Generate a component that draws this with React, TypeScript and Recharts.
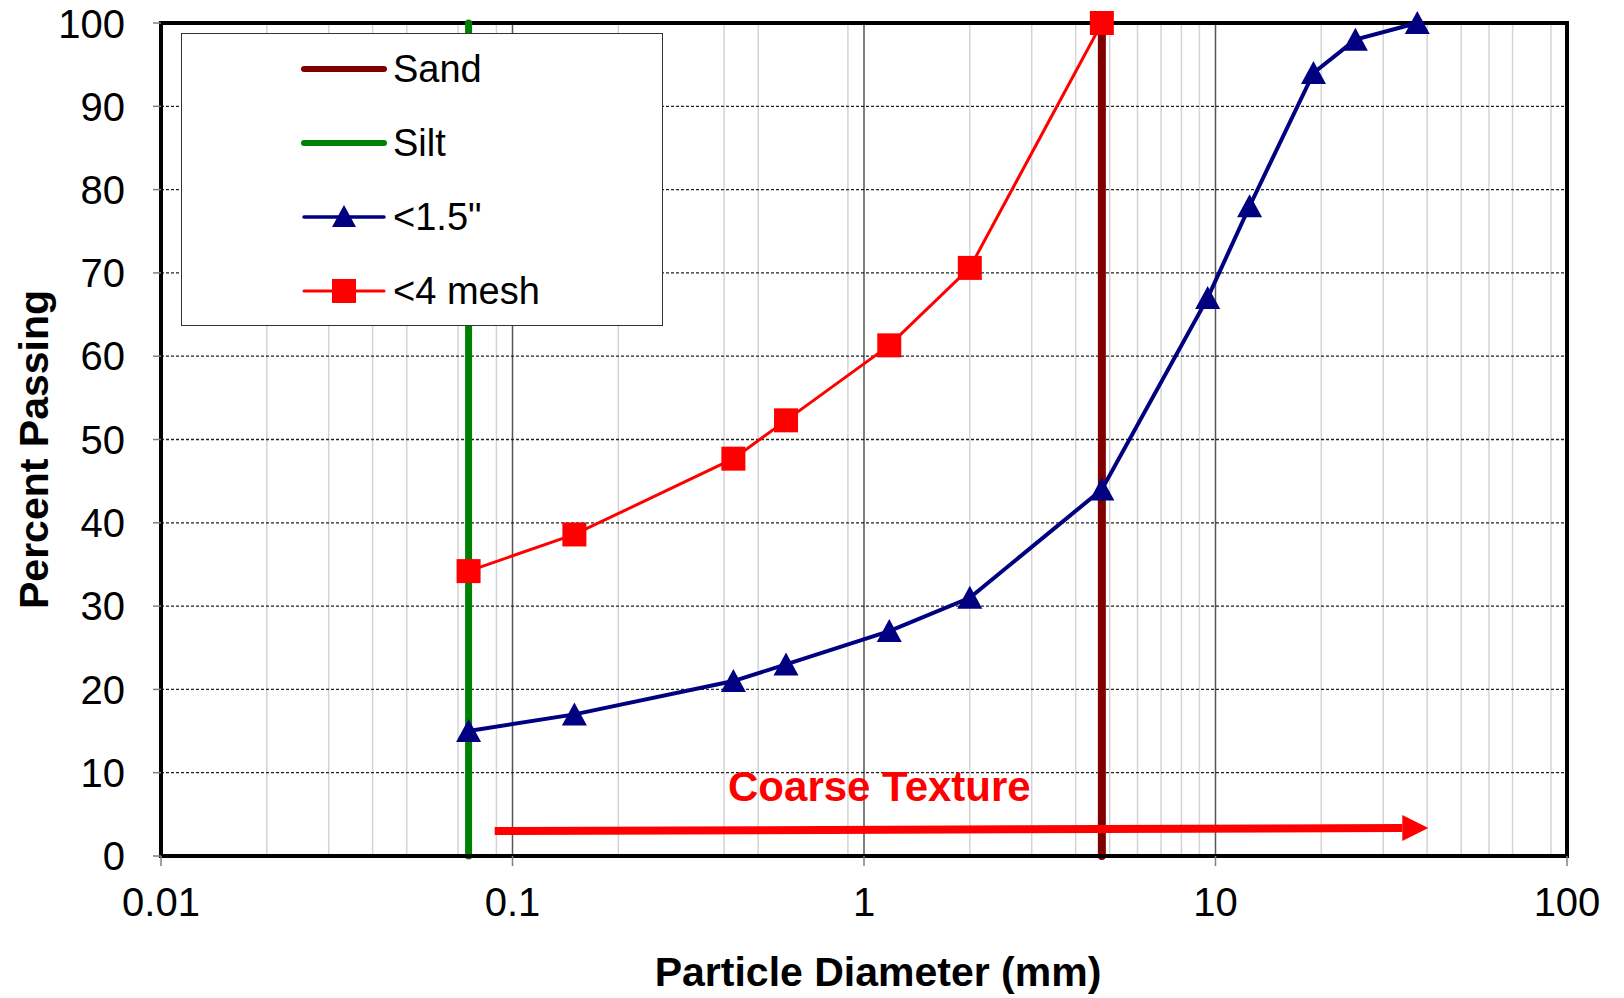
import React from 'react';
import {
  ComposedChart, Line, XAxis, YAxis, CartesianGrid,
  ReferenceArea, ReferenceDot, Legend,
} from 'recharts';

// sieve openings (mm) and percent passing
const sieveMm = [0.075, 0.15, 0.425, 0.6, 1.18, 2.0, 4.75, 9.5, 12.5, 19, 25, 37.5];
const passing15 = [15, 17, 21, 23, 27, 31, 44, 67, 78, 94, 98, 100];
const meshMm = [0.075, 0.15, 0.425, 0.6, 1.18, 2.0, 4.75];
const passingMesh = [34.2, 38.6, 47.7, 52.3, 61.3, 70.6, 100];

// texture boundaries
const sandX = [4.75, 4.75];
const sandY = [0, 100];
const siltX = [0.075, 0.075];
const siltY = [0, 100];

// "Coarse Texture" arrow
const arrowX = [0.089, 34];
const arrowY = [3.0, 3.35];
const arrowLabel = 'Coarse Texture';
const arrowLabelX = 1.106;
const arrowLabelY = 8.34;

const xTicks = [0.01, 0.1, 1, 10, 100];
const yTicks = [0, 10, 20, 30, 40, 50, 60, 70, 80, 90, 100];
const decades = [0.01, 0.1, 1, 10];
const multipliers = [2, 3, 4, 5, 6, 7, 8, 9];
const minorX = decades.flatMap((d) => multipliers.map((m) => d * m));

const legendOrder = ['Sand', 'Silt', '<1.5"', '<4 mesh'];

const toRows = (xs: number[], ys: number[]) => xs.map((x, i) => ({ x, y: ys[i] }));

const FONT = '"Liberation Sans", Arial, sans-serif';

const legendStyle: Record<string, { color: string; width: number; marker?: 'tri' | 'sq' }> = {
  Sand: { color: '#800000', width: 6 },
  Silt: { color: '#008000', width: 6 },
  '<1.5"': { color: '#000080', width: 3.5, marker: 'tri' },
  '<4 mesh': { color: '#FF0000', width: 3, marker: 'sq' },
};

function LegendBox(props: any) {
  const items = (props.payload || [])
    .filter((p: any) => legendStyle[p.value])
    .sort((a: any, b: any) => legendOrder.indexOf(a.value) - legendOrder.indexOf(b.value));
  return (
    <div style={{
      width: 482, height: 293, background: '#fff', border: '1.5px solid #333',
      boxSizing: 'border-box', position: 'relative', fontFamily: FONT,
    }}>
      {items.map((p: any, i: number) => {
        const s = legendStyle[p.value];
        return (
          <div key={p.value} style={{
            position: 'absolute', left: 119, top: 35 + i * 74 - 22, height: 44,
            display: 'flex', alignItems: 'center',
          }}>
            <svg width={86} height={44}>
              <line x1={3} y1={22} x2={83} y2={22} stroke={s.color} strokeWidth={s.width} strokeLinecap="round" />
              {s.marker === 'tri' && <path d="M43 10 L55 32 L31 32 Z" fill={s.color} />}
              {s.marker === 'sq' && <rect x={31} y={10} width={24} height={24} fill={s.color} />}
            </svg>
            <span style={{ fontSize: 38, color: '#000', marginLeft: 6, lineHeight: '44px' }}>{p.value}</span>
          </div>
        );
      })}
    </div>
  );
}

function YTitle({ viewBox }: any) {
  const cy = viewBox.y + viewBox.height / 2 + 10;
  return (
    <text x={34} y={cy} transform={`rotate(-90, 34, ${cy})`} textAnchor="middle" dominantBaseline="central"
      fontFamily={FONT} fontWeight="bold" fontSize={41} fill="#000">Percent Passing</text>
  );
}

function XTitle({ viewBox }: any) {
  return (
    <text x={viewBox.x + viewBox.width / 2 + 14} y={viewBox.y + 116} textAnchor="middle" dominantBaseline="central"
      fontFamily={FONT} fontWeight="bold" fontSize={41} fill="#000">Particle Diameter (mm)</text>
  );
}

const triangle = (p: any) => (
  <path key={p.index} d={`M${p.cx} ${p.cy - 12} L${p.cx + 12.5} ${p.cy + 11} L${p.cx - 12.5} ${p.cy + 11} Z`} fill="#000080" />
);
const square = (p: any) => (
  <rect key={p.index} x={p.cx - 12} y={p.cy - 12} width={24} height={24} fill="#FF0000" />
);
const arrowHead = (p: any) =>
  p.index === arrowX.length - 1 ? (
    <path key={p.index} d={`M${p.cx} ${p.cy - 13} L${p.cx + 26} ${p.cy} L${p.cx} ${p.cy + 13} Z`} fill="#FF0000" />
  ) : (
    <g key={p.index} />
  );

export default function App() {
  return (
    <div style={{ position: 'absolute', left: 0, top: 0 }}>
      <ComposedChart width={1624} height={998} margin={{ top: 23, right: 57, left: 0, bottom: 0 }}>
        <CartesianGrid horizontal={false} verticalValues={minorX} stroke="#D4D4D4" strokeWidth={1.5} />
        <CartesianGrid horizontal={false} verticalValues={xTicks} stroke="#555" strokeWidth={1.5} />
        <CartesianGrid vertical={false} horizontalValues={yTicks} stroke="#222" strokeWidth={1.3} strokeDasharray="3 2" />
        <XAxis
          dataKey="x" type="number" scale="log" domain={[0.01, 100]} ticks={xTicks}
          height={142} tickFormatter={(v) => String(v)}
          axisLine={{ stroke: '#000', strokeWidth: 4 }}
          tickLine={{ stroke: '#808080', strokeWidth: 1.5 }} tickSize={10} tickMargin={22}
          tick={{ fontSize: 40, fill: '#000', fontFamily: FONT }}
          label={<XTitle />}
        />
        <YAxis
          type="number" domain={[0, 100]} ticks={yTicks} width={161}
          axisLine={{ stroke: '#000', strokeWidth: 4 }}
          tickLine={{ stroke: '#808080', strokeWidth: 1.5 }} tickSize={8} tickMargin={28}
          tick={{ fontSize: 40, fill: '#000', fontFamily: FONT }}
          label={<YTitle />}
        />
        <ReferenceArea x1={0.01} x2={100} y1={0} y2={100} fill="none" stroke="#000" strokeWidth={4} ifOverflow="visible" />
        <Legend
          layout="vertical" align="center" verticalAlign="middle"
          wrapperStyle={{ left: 181, top: 33, width: 482, height: 293 }}
          content={<LegendBox />}
        />
        <Line data={toRows(sandX, sandY)} dataKey="y" name="Sand" stroke="#800000" strokeWidth={8}
          strokeLinecap="round" dot={false} activeDot={false} isAnimationActive={false} />
        <Line data={toRows(siltX, siltY)} dataKey="y" name="Silt" stroke="#008000" strokeWidth={7}
          strokeLinecap="round" dot={false} activeDot={false} isAnimationActive={false} />
        <Line data={toRows(sieveMm, passing15)} dataKey="y" name={'<1.5"'} stroke="#000080" strokeWidth={4}
          dot={triangle} activeDot={false} isAnimationActive={false} />
        <Line data={toRows(meshMm, passingMesh)} dataKey="y" name="<4 mesh" stroke="#FF0000" strokeWidth={3}
          dot={square} activeDot={false} isAnimationActive={false} />
        <Line data={toRows(arrowX, arrowY)} dataKey="y" name="arrow" legendType="none" stroke="#FF0000" strokeWidth={8}
          dot={arrowHead} activeDot={false} isAnimationActive={false} />
        <ReferenceDot x={arrowLabelX} y={arrowLabelY} r={0} ifOverflow="visible"
          shape={(p: any) => (
            <text x={p.cx} y={p.cy} textAnchor="middle" dominantBaseline="central"
              fontFamily={FONT} fontWeight="bold" fontSize={42} fill="#FF0000">{arrowLabel}</text>
          )}
        />
      </ComposedChart>
    </div>
  );
}
